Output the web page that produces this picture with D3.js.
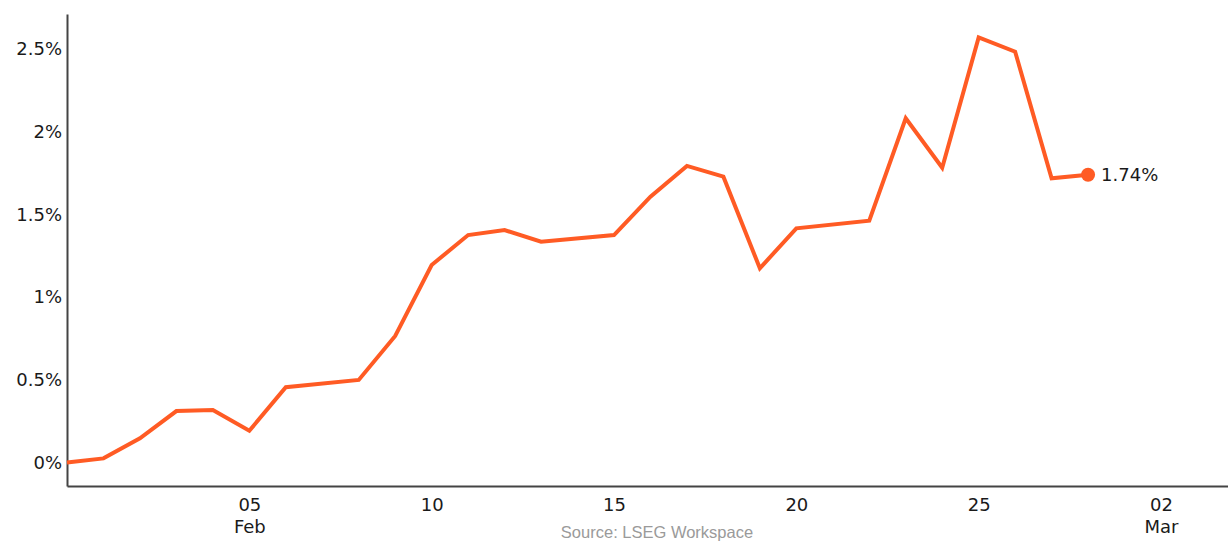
<!DOCTYPE html>
<html>
<head>
<meta charset="utf-8">
<script src="https://cdn.jsdelivr.net/npm/d3@7"></script>
<style>
  body { margin: 0; background: #fff; }
  svg { display: block; }
</style>
</head>
<body>
<div id="chart"></div>
<script>
(function(d3) {
  'use strict';

  // daily dates (Feb 2025) and cumulative change in %
  var dates = ['2025-01-31', '2025-02-01', '2025-02-02', '2025-02-03', '2025-02-04',
    '2025-02-05', '2025-02-06', '2025-02-08', '2025-02-09', '2025-02-10',
    '2025-02-11', '2025-02-12', '2025-02-13', '2025-02-15', '2025-02-16',
    '2025-02-17', '2025-02-18', '2025-02-19', '2025-02-20', '2025-02-22',
    '2025-02-23', '2025-02-24', '2025-02-25', '2025-02-26', '2025-02-27',
    '2025-02-28'];
  var values = [0, 0.025, 0.146, 0.311, 0.317,
    0.192, 0.455, 0.499, 0.765, 1.194,
    1.375, 1.405, 1.335, 1.375, 1.607,
    1.793, 1.728, 1.174, 1.416, 1.462,
    2.081, 1.782, 2.57, 2.484, 1.718,
    1.74];

  var yTicks = [0, 0.5, 1, 1.5, 2, 2.5];
  var xTicks = ['2025-02-05', '2025-02-10', '2025-02-15', '2025-02-20', '2025-02-25', '2025-03-02'];
  var source = 'Source: LSEG Workspace';

  var width = 1228;
  var height = 541;
  var left = 67;
  var axisY = 486;
  var top = 14;
  var lineColor = '#ff5b24';
  var axisColor = '#444';
  var labelFont = 'DejaVu Sans, Verdana, sans-serif';

  var parse = d3.utcParse('%Y-%m-%d');
  var data = dates.map(function(d, i) {
    return { date: parse(d), value: values[i] };
  });

  // day spacing set by 31 Jan -> 02 Mar, then stretched to the right edge
  var x = d3.scaleUtc()
    .domain([parse('2025-01-31'), parse('2025-03-02')])
    .range([left, 1161]);
  x.domain([x.domain()[0], x.invert(width)]).range([left, width]);

  var y = d3.scaleLinear()
    .domain([0, 2.5])
    .range([462.5, 49]);
  y.domain([y.invert(axisY), y.invert(top)]).range([axisY, top]);

  var svg = d3.select('#chart')
    .append('svg')
    .attr('width', width)
    .attr('height', height);

  // y axis
  var yAxis = svg.append('g')
    .attr('transform', 'translate(' + left + ',0)')
    .call(d3.axisLeft(y)
      .tickValues(yTicks)
      .tickSize(0)
      .tickPadding(5)
      .tickFormat(function(d) { return d + '%'; }));
  yAxis.select('.domain')
    .attr('stroke', axisColor)
    .attr('stroke-width', 2);
  yAxis.selectAll('text')
    .attr('fill', '#1a1a1a')
    .style('font-family', labelFont)
    .style('font-size', '18px');

  // x axis
  var xAxis = svg.append('g')
    .attr('transform', 'translate(0,' + axisY + ')')
    .call(d3.axisBottom(x)
      .tickValues(xTicks.map(parse))
      .tickSize(0)
      .tickPadding(0)
      .tickFormat(''));
  xAxis.select('.domain')
    .attr('stroke', axisColor)
    .attr('stroke-width', 2);

  var fmtDay = d3.utcFormat('%d');
  var fmtMon = d3.utcFormat('%b');
  xAxis.selectAll('.tick').each(function(d) {
    var t = d3.select(this).select('text')
      .attr('y', 0)
      .attr('dy', null)
      .attr('fill', '#1a1a1a')
      .style('font-family', labelFont)
      .style('font-size', '18px');
    t.append('tspan').attr('x', 0).attr('y', 25).text(fmtDay(d));
    if (d.getUTCDate() < 6) {
      t.append('tspan').attr('x', 0).attr('y', 47).text(fmtMon(d));
    }
  });

  // line
  var line = d3.line()
    .x(function(d) { return x(d.date); })
    .y(function(d) { return y(d.value); });

  svg.append('path')
    .datum(data)
    .attr('fill', 'none')
    .attr('stroke', lineColor)
    .attr('stroke-width', 4)
    .attr('stroke-linejoin', 'miter')
    .attr('d', line);

  var last = data[data.length - 1];
  svg.append('circle')
    .attr('cx', x(last.date))
    .attr('cy', y(last.value))
    .attr('r', 7)
    .attr('fill', lineColor);

  svg.append('text')
    .attr('x', x(last.date) + 13)
    .attr('y', y(last.value))
    .attr('dy', '0.36em')
    .attr('fill', '#1a1a1a')
    .style('font-family', labelFont)
    .style('font-size', '18px')
    .text(last.value.toFixed(2) + '%');

  svg.append('text')
    .attr('x', 657)
    .attr('y', 538)
    .attr('text-anchor', 'middle')
    .attr('fill', '#9a9a9a')
    .style('font-family', 'Liberation Sans, Arial, sans-serif')
    .style('font-size', '16.5px')
    .text(source);

})(window.d3);
</script>
</body>
</html>
